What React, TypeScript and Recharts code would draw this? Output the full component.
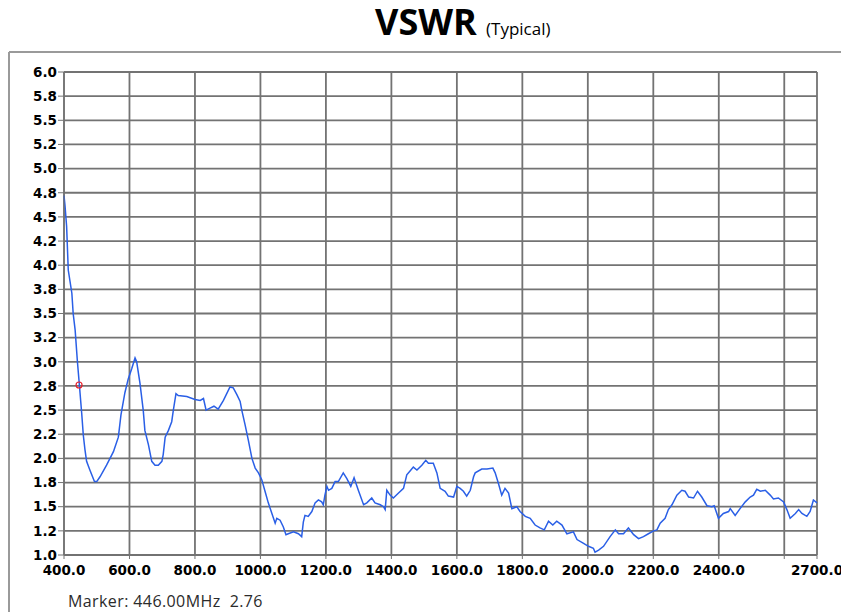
import { LineChart, Line, XAxis, YAxis, CartesianGrid, ReferenceDot } from 'recharts';

// sweep (MHz / VSWR)
const freqMHz = [
    400, 403, 408, 413, 424, 428, 434, 441, 447, 454, 459, 464, 469, 479, 493, 500, 510, 530, 551, 566,
    574, 586, 596, 607, 617, 622, 632, 642, 647, 658, 668, 678, 688, 699, 703, 709, 719, 729, 734, 742,
    749, 775, 800, 816, 826, 834, 846, 858, 871, 887, 907, 917, 928, 938, 943, 953, 963, 974, 984, 994,
    1004, 1014, 1024, 1035, 1045, 1050, 1060, 1070, 1078, 1085, 1101, 1116, 1126, 1131, 1136, 1146, 1157, 1167, 1177, 1187,
    1192, 1197, 1203, 1208, 1218, 1228, 1238, 1253, 1264, 1276, 1286, 1299, 1315, 1325, 1340, 1350, 1366, 1376, 1381, 1386,
    1396, 1406, 1421, 1437, 1447, 1457, 1467, 1478, 1493, 1505, 1513, 1528, 1539, 1549, 1564, 1574, 1590, 1600, 1610, 1620,
    1630, 1641, 1651, 1656, 1676, 1692, 1710, 1717, 1727, 1737, 1747, 1758, 1768, 1783, 1793, 1809, 1824, 1839, 1854, 1867,
    1880, 1893, 1905, 1921, 1936, 1956, 1967, 1987, 2002, 2017, 2022, 2033, 2048, 2068, 2084, 2094, 2109, 2124, 2140, 2155,
    2170, 2185, 2201, 2211, 2221, 2236, 2246, 2257, 2272, 2287, 2297, 2308, 2323, 2335, 2348, 2364, 2379, 2386, 2399, 2414,
    2430, 2435, 2450, 2465, 2481, 2496, 2506, 2516, 2527, 2542, 2557, 2567, 2582, 2598, 2608, 2618, 2634, 2644, 2654, 2669,
    2679, 2689, 2700,
];
const vswr = [
    4.72, 4.62, 4.4, 3.95, 3.71, 3.5, 3.33, 3.0, 2.76, 2.47, 2.24, 2.09, 1.97, 1.88, 1.76, 1.76, 1.81, 1.93, 2.07, 2.22,
    2.45, 2.68, 2.82, 2.93, 3.04, 3.0, 2.78, 2.5, 2.29, 2.14, 1.97, 1.93, 1.93, 1.97, 2.04, 2.22, 2.29, 2.38, 2.5, 2.67,
    2.65, 2.64, 2.61, 2.6, 2.62, 2.5, 2.52, 2.54, 2.51, 2.6, 2.74, 2.73, 2.66, 2.59, 2.5, 2.35, 2.19, 2.0, 1.9, 1.85,
    1.78, 1.66, 1.54, 1.43, 1.33, 1.38, 1.36, 1.29, 1.21, 1.22, 1.24, 1.22, 1.19, 1.34, 1.41, 1.4, 1.45, 1.54, 1.57, 1.55,
    1.52, 1.62, 1.71, 1.67, 1.69, 1.76, 1.76, 1.85, 1.79, 1.71, 1.8, 1.67, 1.52, 1.54, 1.59, 1.54, 1.52, 1.5, 1.47, 1.67,
    1.62, 1.59, 1.64, 1.69, 1.83, 1.87, 1.91, 1.88, 1.93, 1.98, 1.95, 1.95, 1.85, 1.69, 1.66, 1.61, 1.6, 1.71, 1.69, 1.66,
    1.61, 1.67, 1.81, 1.85, 1.89, 1.89, 1.9, 1.85, 1.74, 1.62, 1.69, 1.64, 1.48, 1.5, 1.45, 1.4, 1.38, 1.31, 1.28, 1.26,
    1.35, 1.31, 1.35, 1.31, 1.22, 1.24, 1.16, 1.12, 1.09, 1.07, 1.03, 1.05, 1.09, 1.19, 1.26, 1.22, 1.22, 1.28, 1.21, 1.17,
    1.19, 1.22, 1.25, 1.26, 1.33, 1.38, 1.47, 1.52, 1.62, 1.67, 1.66, 1.6, 1.59, 1.66, 1.6, 1.51, 1.5, 1.51, 1.38, 1.43,
    1.45, 1.48, 1.41, 1.48, 1.55, 1.6, 1.62, 1.68, 1.66, 1.67, 1.62, 1.58, 1.59, 1.55, 1.47, 1.38, 1.43, 1.47, 1.43, 1.4,
    1.45, 1.57, 1.54,
];

const yTicks = [1, 1.25, 1.5, 1.75, 2, 2.25, 2.5, 2.75, 3, 3.25, 3.5, 3.75, 4, 4.25, 4.5, 4.75, 5, 5.25, 5.5, 5.75, 6];
const yTickLabels = [
    '1.0', '1.2', '1.5', '1.8', '2.0', '2.2', '2.5', '2.8', '3.0', '3.2', '3.5',
    '3.8', '4.0', '4.2', '4.5', '4.8', '5.0', '5.2', '5.5', '5.8', '6.0',
];
const xTicks = [400, 600, 800, 1000, 1200, 1400, 1600, 1800, 2000, 2200, 2400, 2600, 2700];
const xTickLabels = [
    '400.0', '600.0', '800.0', '1000.0', '1200.0', '1400.0', '1600.0',
    '1800.0', '2000.0', '2200.0', '2400.0', '', '2700.0',
];

const markerFreq = 446;
const markerVswr = 2.76;

const data = freqMHz.map((f, i) => ({ f, v: vswr[i] }));

const gridColor = '#737373';
const tickStyle = { fill: '#000', fontSize: 13.5, fontWeight: 700, fontFamily: 'DejaVu Sans' };

export default function App() {
    return (
        <div
            style={{
                position: 'absolute',
                left: 0,
                top: 0,
                width: 841,
                height: 612,
                overflow: 'hidden',
                background: '#fff',
            }}
        >
            <LineChart width={841} height={612} data={data} margin={{ top: 72, right: 24, bottom: 30, left: 30 }}>
                <CartesianGrid stroke={gridColor} strokeWidth={1.8} />
                <XAxis
                    dataKey="f"
                    type="number"
                    domain={[400, 2700]}
                    ticks={xTicks}
                    interval={0}
                    height={27}
                    tickSize={4}
                    tickMargin={6}
                    stroke={gridColor}
                    tick={tickStyle}
                    tickFormatter={(t: number) => xTickLabels[xTicks.indexOf(t)]}
                />
                <YAxis
                    type="number"
                    domain={[1, 6]}
                    ticks={yTicks}
                    interval={0}
                    width={34}
                    tickSize={6}
                    tickMargin={1}
                    stroke={gridColor}
                    tick={tickStyle}
                    tickFormatter={(t: number) => yTickLabels[yTicks.indexOf(t)]}
                />
                <Line
                    type="linear"
                    dataKey="v"
                    stroke="#2a5fe6"
                    strokeWidth={1.5}
                    dot={false}
                    isAnimationActive={false}
                />
                <ReferenceDot x={markerFreq} y={markerVswr} r={3} fill="none" stroke="#e8202a" strokeWidth={1.2} />
            </LineChart>
            <svg
                width={841}
                height={612}
                style={{ position: 'absolute', left: 0, top: 0, pointerEvents: 'none' }}
            >
                <line x1={9} y1={52} x2={841} y2={52} stroke="#9a9a9a" strokeWidth={2} />
                <line x1={9} y1={52} x2={9} y2={612} stroke="#9a9a9a" strokeWidth={2} />
                <text x={375} y={35} fontFamily="Open Sans" fontWeight={700} fontSize={36} fill="#000">
                    VSWR
                </text>
                <text x={486} y={35} fontFamily="Open Sans" fontSize={17} fill="#000">
                    (Typical)
                </text>
                <text
                    x={68}
                    y={607}
                    fontFamily="Open Sans"
                    fontSize={16}
                    letterSpacing={0.4}
                    fill="#2b2b2b"
                    style={{ whiteSpace: 'pre' }}
                >
                    {`Marker: ${markerFreq.toFixed(2)}MHz  ${markerVswr.toFixed(2)}`}
                </text>
            </svg>
        </div>
    );
}
